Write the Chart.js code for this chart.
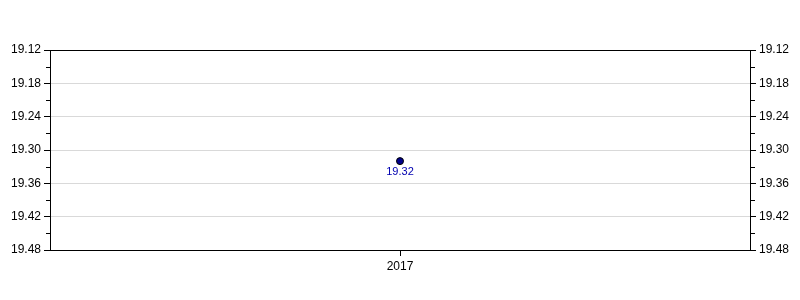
<!DOCTYPE html>
<html>
<head>
<meta charset="utf-8">
<script src="https://cdn.jsdelivr.net/npm/chart.js@4/dist/chart.umd.min.js"></script>
<style>
  body { margin: 0; background: #fff; }
  canvas { display: block; }
</style>
</head>
<body>
<canvas id="myChart" width="800" height="300"></canvas>
<script>
var categories = ['2017'];
var values = [19.32];
var yTicks = [19.12, 19.18, 19.24, 19.30, 19.36, 19.42, 19.48];

// minor ticks between the major ones, and the black frame
var framePlugin = {
  id: 'frame',
  afterDraw: function (chart) {
    var ctx = chart.ctx;
    var a = chart.chartArea;
    var l = Math.round(a.left), r = Math.round(a.right);
    var t = Math.round(a.top), b = Math.round(a.bottom);
    ctx.save();
    ctx.strokeStyle = '#000';
    ctx.lineWidth = 1;
    ctx.strokeRect(l + 0.5, t + 0.5, r - l, b - t);
    ['y', 'y2'].forEach(function (id) {
      var s = chart.scales[id];
      for (var i = 0; i < yTicks.length - 1; i++) {
        var py = Math.round(s.getPixelForValue((yTicks[i] + yTicks[i + 1]) / 2)) + 0.5;
        ctx.beginPath();
        if (id === 'y') { ctx.moveTo(l - 4, py); ctx.lineTo(l, py); }
        else { ctx.moveTo(r + 1, py); ctx.lineTo(r + 5, py); }
        ctx.stroke();
      }
    });
    // value label under the point
    var meta = chart.getDatasetMeta(0);
    ctx.fillStyle = '#0000b0';
    ctx.font = '11px "Liberation Sans", Arial, sans-serif';
    ctx.textAlign = 'center';
    ctx.textBaseline = 'top';
    meta.data.forEach(function (pt, i) {
      ctx.fillText(values[i].toFixed(2), pt.x, pt.y + 5);
    });
    ctx.restore();
  }
};

function yAxis(pos) {
  return {
    type: 'linear',
    position: pos,
    reverse: true,
    min: yTicks[0],
    max: yTicks[yTicks.length - 1],
    afterBuildTicks: function (s) { s.ticks = yTicks.map(function (v) { return { value: v }; }); },
    afterFit: function (s) { s.width = 50; },
    border: { display: false },
    grid: {
      display: true,
      drawOnChartArea: pos === 'left',
      color: '#d9d9d9',
      tickColor: '#000',
      tickLength: 6
    },
    ticks: {
      color: '#000',
      padding: 3,
      font: { family: '"Liberation Sans", Arial, sans-serif', size: 12 },
      callback: function (v) { return Number(v).toFixed(2); }
    }
  };
}

var ctx = document.getElementById('myChart').getContext('2d');
var chart = new Chart(ctx, {
  type: 'line',
  data: {
    labels: categories,
    datasets: [{
      label: 'Value',
      data: values,
      showLine: false,
      pointRadius: 3.5,
      pointBackgroundColor: '#00008b',
      pointBorderColor: '#000',
      pointBorderWidth: 1,
      yAxisID: 'y'
    }]
  },
  options: {
    responsive: false,
    animation: false,
    layout: { padding: { top: 50, left: 0, right: 0, bottom: 0 } },
    plugins: { legend: { display: false }, tooltip: { enabled: false } },
    scales: {
      x: {
        offset: true,
        afterFit: function (s) { s.height = 50; },
        border: { display: false },
        grid: { display: true, drawOnChartArea: false, tickColor: '#000', tickLength: 6, offset: false },
        ticks: {
          color: '#000',
          padding: 3,
          font: { family: '"Liberation Sans", Arial, sans-serif', size: 12 }
        }
      },
      y: yAxis('left'),
      y2: yAxis('right')
    }
  },
  plugins: [framePlugin]
});
</script>
</body>
</html>
